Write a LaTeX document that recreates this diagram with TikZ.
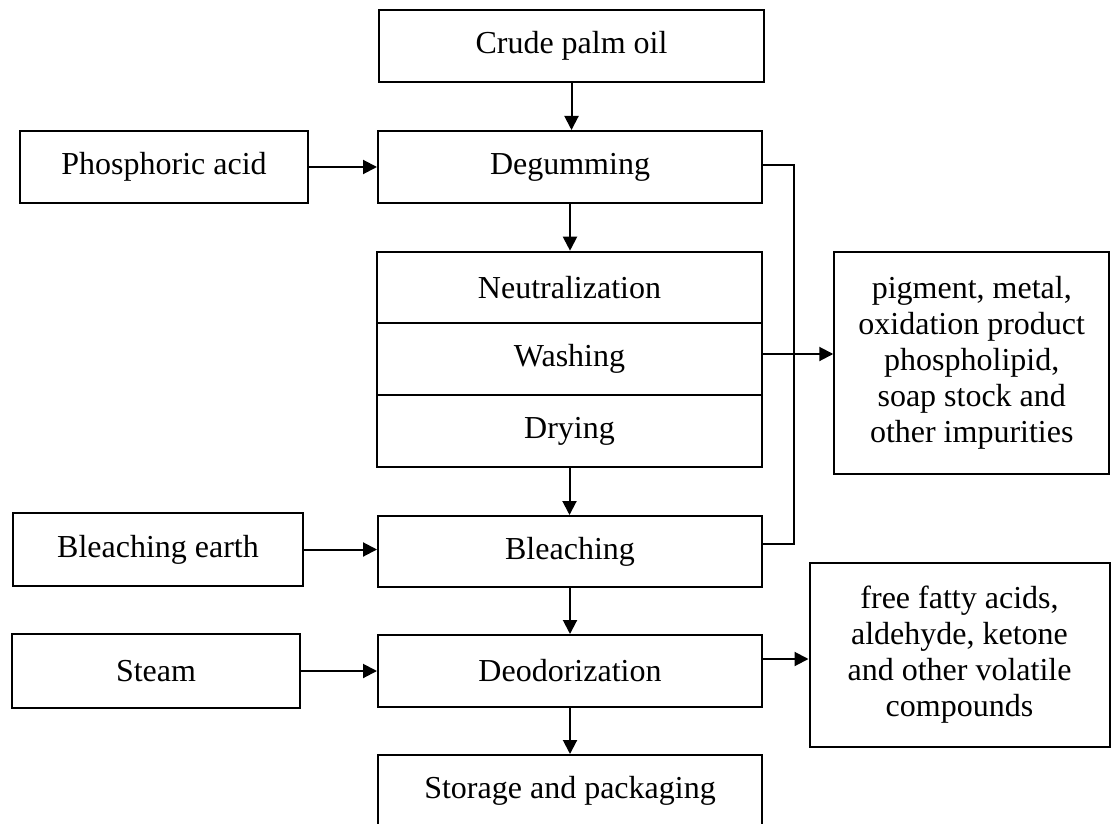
\documentclass[tikz,border=0pt]{standalone}
\usepackage{fontspec}
\setmainfont{Liberation Serif}
\usetikzlibrary{arrows.meta}

\begin{document}
\begin{tikzpicture}[x=0.5pt,y=-0.5pt,
    box/.style={draw,line width=1pt,inner sep=0pt,minimum height=36pt,
      font=\fontsize{16}{18}\selectfont,align=center},
    arr/.style={line width=1pt,-{Triangle[length=7pt,width=7pt]}}]
  \useasboundingbox (0,0) rectangle (1111,823);
  % main line
  \node[box,minimum width=192.5pt] (cpo) at (571.5,46) {Crude palm oil};
  \node[box,minimum width=192pt] (degum) at (570,167) {Degumming};
  \node[box,minimum width=192.5pt,minimum height=35.8pt] (neut) at (569.5,287.5) {Neutralization};
  \node[box,minimum width=192.5pt,minimum height=35.8pt] (wash) at (569.5,359) {Washing};
  \node[box,minimum width=192.5pt,minimum height=35.8pt] (dry) at (569.5,431) {Drying};
  \node[box,minimum width=192pt,minimum height=35.5pt] (bleach) at (570,551.5) {Bleaching};
  \node[box,minimum width=192pt] (deodor) at (570,671) {Deodorization};
  \node[box,minimum width=192pt] (store) at (570,791) {Storage and packaging};
  % inputs
  \node[box,minimum width=144pt] (phos) at (164,167) {Phosphoric acid};
  \node[box,minimum width=145pt,minimum height=36.5pt] (bearth) at (158,549.5) {Bleaching earth};
  \node[box,minimum width=144pt,minimum height=37pt] (steam) at (156,671) {Steam};
  % outputs
  \node[box,minimum width=137.5pt,minimum height=111pt] (imp) at (971.75,363)
    {pigment, metal,\\oxidation product\\phospholipid,\\soap stock and\\other impurities};
  \node[box,minimum width=150pt,minimum height=92pt] (vol) at (959.5,655)
    {free fatty acids,\\aldehyde, ketone\\and other volatile\\compounds};
  % connectors
  \draw[arr] (cpo.south) -- (cpo.south |- degum.north);
  \draw[arr] (degum.south) -- (degum.south |- neut.north);
  \draw[arr] (dry.south) -- (dry.south |- bleach.north);
  \draw[arr] (bleach) -- (deodor);
  \draw[arr] (deodor) -- (store);
  \draw[arr] (phos) -- (degum);
  \draw[arr] (bearth.east) -- (bearth.east -| bleach.west);
  \draw[arr] (steam) -- (deodor);
  \draw[arr] ([yshift=2.5pt]wash.east) -- ([yshift=2.5pt]wash.east -| imp.west);
  \draw[arr] ([yshift=6pt]deodor.east) -- ([yshift=6pt]deodor.east -| vol.west);
  \draw[line width=1pt] ([yshift=1pt]degum.east) -- ++(31,0) |- ([yshift=3.75pt]bleach.east);
\end{tikzpicture}
\end{document}
